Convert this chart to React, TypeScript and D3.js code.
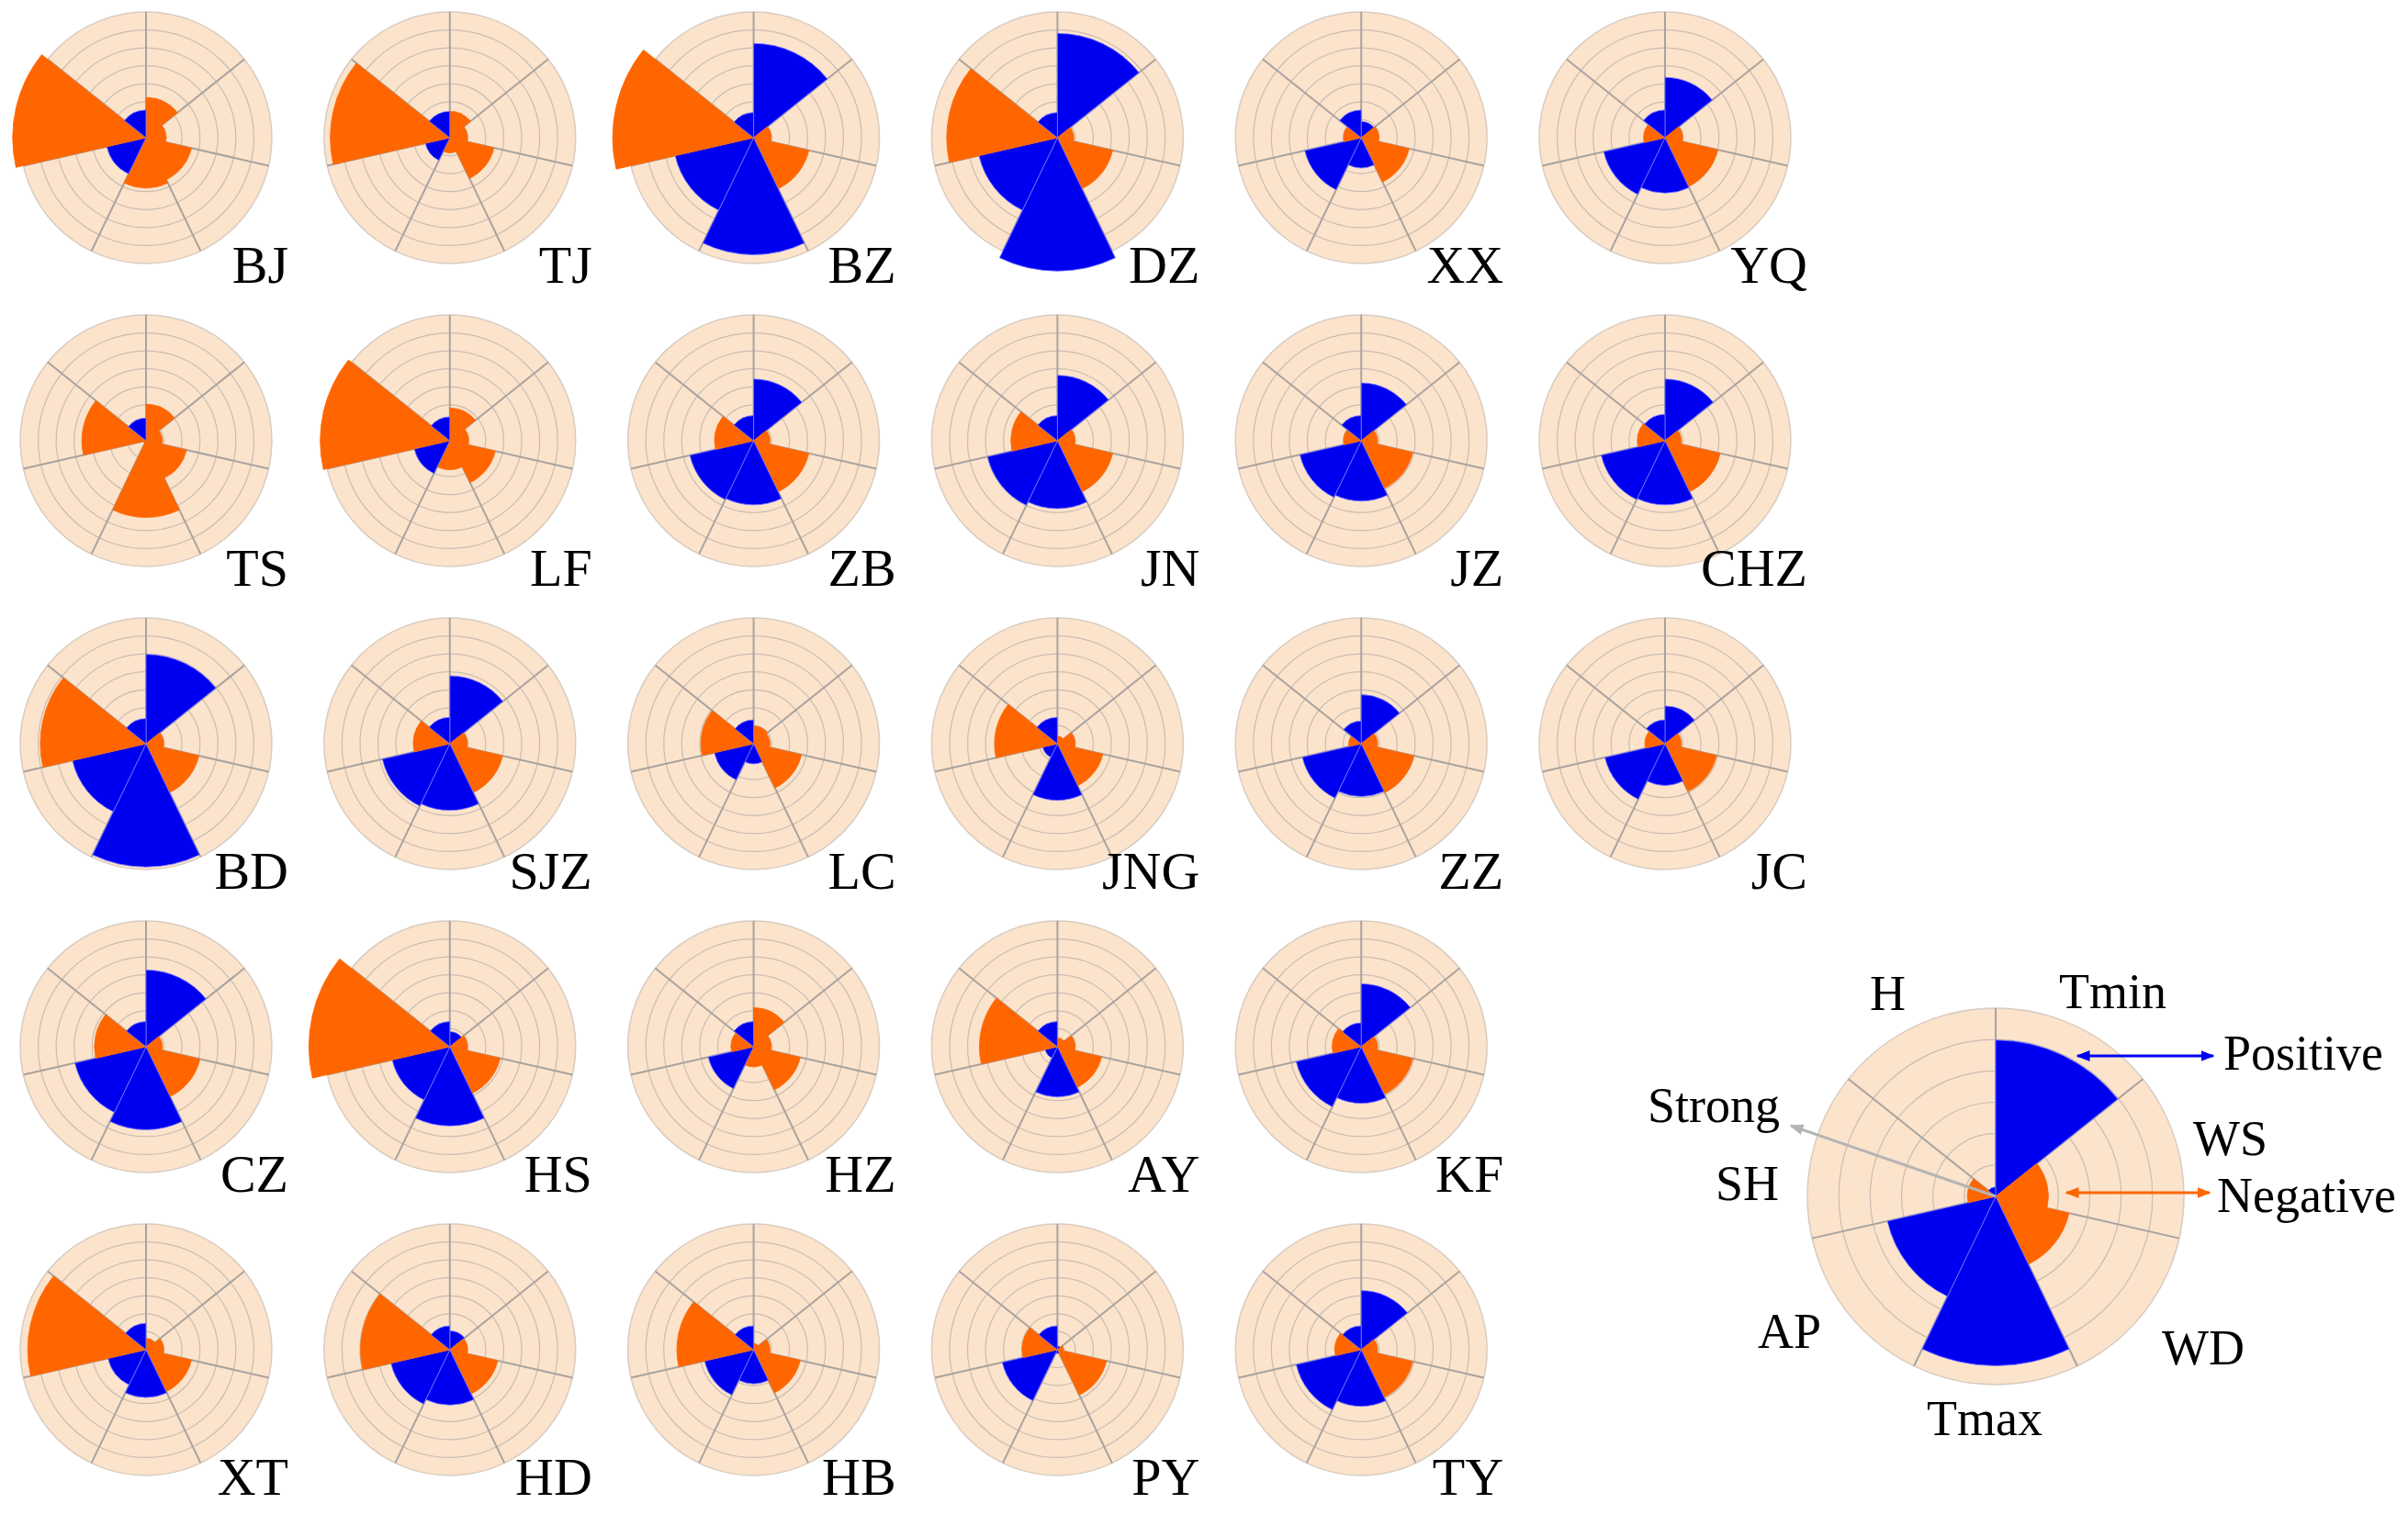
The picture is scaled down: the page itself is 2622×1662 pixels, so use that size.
import React from 'react';
import * as d3 from 'd3';

const variables = ['Tmin', 'WS', 'WD', 'Tmax', 'AP', 'SH', 'H'];

const stations = [
  'BJ', 'TJ', 'BZ', 'DZ', 'XX', 'YQ',
  'TS', 'LF', 'ZB', 'JN', 'JZ', 'CHZ',
  'BD', 'SJZ', 'LC', 'JNG', 'ZZ', 'JC',
  'CZ', 'HS', 'HZ', 'AY', 'KF',
  'XT', 'HD', 'HB', 'PY', 'TY',
];

const rowSizes = [6, 6, 6, 5, 5];

// correlation per station, order: Tmin, WS, WD, Tmax, AP, SH, H (positive = blue, negative = orange)
const values: number[][] = [
  [-0.32, -0.16, -0.37, -0.40, 0.32, -1.06, 0.22],
  [-0.21, -0.14, -0.36, -0.12, 0.20, -0.95, 0.21],
  [0.75, -0.14, -0.45, 0.93, 0.64, -1.12, 0.20],
  [0.83, -0.13, -0.45, 1.06, 0.64, -0.88, 0.20],
  [0.13, -0.14, -0.39, 0.24, 0.46, -0.14, 0.22],
  [0.48, -0.14, -0.43, 0.44, 0.50, -0.17, 0.22],
  [-0.29, -0.13, -0.33, -0.61, -0.02, -0.51, 0.18],
  [-0.26, -0.15, -0.37, -0.23, 0.29, -1.03, 0.19],
  [0.49, -0.13, -0.45, 0.51, 0.52, -0.31, 0.20],
  [0.52, -0.14, -0.45, 0.54, 0.57, -0.37, 0.20],
  [0.46, -0.13, -0.42, 0.48, 0.50, -0.14, 0.20],
  [0.49, -0.13, -0.45, 0.51, 0.52, -0.22, 0.21],
  [0.71, -0.14, -0.43, 0.98, 0.60, -0.84, 0.20],
  [0.54, -0.14, -0.43, 0.53, 0.55, -0.29, 0.21],
  [-0.14, -0.13, -0.39, 0.16, 0.32, -0.42, 0.19],
  [-0.06, -0.14, -0.37, 0.45, 0.12, -0.50, 0.21],
  [0.39, -0.13, -0.43, 0.42, 0.48, -0.10, 0.18],
  [0.30, -0.13, -0.42, 0.33, 0.49, -0.16, 0.19],
  [0.61, -0.13, -0.44, 0.66, 0.58, -0.41, 0.20],
  [0.12, -0.14, -0.41, 0.63, 0.47, -1.12, 0.20],
  [-0.31, -0.14, -0.38, -0.16, 0.37, -0.18, 0.20],
  [-0.07, -0.14, -0.36, 0.40, 0.10, -0.62, 0.20],
  [0.50, -0.13, -0.42, 0.45, 0.53, -0.23, 0.19],
  [-0.09, -0.14, -0.37, 0.38, 0.31, -0.94, 0.21],
  [0.15, -0.14, -0.39, 0.44, 0.48, -0.71, 0.19],
  [-0.05, -0.13, -0.38, 0.27, 0.40, -0.61, 0.19],
  [0.03, -0.05, -0.40, 0.03, 0.45, -0.28, 0.19],
  [0.47, -0.13, -0.42, 0.45, 0.53, -0.21, 0.19],
];

const legendValues = [0.83, -0.28, -0.40, 0.90, 0.59, -0.15, 0.05];

const W = 2622;
const H = 1662;
const BLUE = '#0000F0';
const ORANGE = '#FF6600';
const PEACH = '#FCE3CC';
const FONT = "'Liberation Serif', 'Times New Roman', 'DejaVu Serif', serif";

const angle = d3.scaleLinear().domain([0, variables.length]).range([0, 2 * Math.PI]);

type RoseProps = { cx: number; cy: number; R: number; vals: number[]; rings: number };

function Rose({ cx, cy, R, vals, rings }: RoseProps) {
  const r = d3.scaleLinear().domain([0, 1]).range([0, R]);
  const arc = d3.arc<any>();
  const ringVals = d3.range(1, rings).map((k) => k / rings);
  return (
    <g transform={`translate(${cx},${cy})`}>
      <circle r={R} fill={PEACH} stroke="#D8CCC0" strokeWidth={1.5} />
      {ringVals.map((v, i) => (
        <circle key={i} r={r(v)} fill="none" stroke="#C9BDB1" strokeWidth={1.2} />
      ))}
      {variables.map((_, i) => {
        const a = angle(i);
        return (
          <line
            key={i}
            x1={0}
            y1={0}
            x2={R * Math.sin(a)}
            y2={-R * Math.cos(a)}
            stroke="#A8A39E"
            strokeWidth={2}
          />
        );
      })}
      {vals.map((v, i) => (
        <path
          key={i}
          d={
            arc({
              innerRadius: 0,
              outerRadius: r(Math.abs(v)),
              startAngle: angle(i),
              endAngle: angle(i + 1),
            }) as string
          }
          fill={v >= 0 ? BLUE : ORANGE}
          stroke={v >= 0 ? '#7a7aff' : ORANGE}
          strokeWidth={0.8}
        />
      ))}
    </g>
  );
}

export default function App() {
  const x0 = 159;
  const y0 = 150;
  const dx = 330.8;
  const dy = 330;
  const Rs = 137;
  const cells: { name: string; vals: number[]; cx: number; cy: number }[] = [];
  let idx = 0;
  rowSizes.forEach((n, row) => {
    for (let c = 0; c < n; c++) {
      cells.push({ name: stations[idx], vals: values[idx], cx: x0 + c * dx, cy: y0 + row * dy });
      idx++;
    }
  });

  const lcx = 2173;
  const lcy = 1303;
  const LR = 205;

  return (
    <svg
      width={W}
      height={H}
      viewBox={`0 0 ${W} ${H}`}
      style={{ position: 'absolute', left: 0, top: 0, background: '#fff' }}
    >
      <defs>
        <marker id="hb" viewBox="0 0 10 10" refX="9" refY="5" markerWidth="5" markerHeight="5" orient="auto-start-reverse">
          <path d="M0,1 L10,5 L0,9 z" fill={BLUE} />
        </marker>
        <marker id="ho" viewBox="0 0 10 10" refX="9" refY="5" markerWidth="5" markerHeight="5" orient="auto-start-reverse">
          <path d="M0,1 L10,5 L0,9 z" fill={ORANGE} />
        </marker>
        <marker id="hg" viewBox="0 0 10 10" refX="9" refY="5" markerWidth="5" markerHeight="5" orient="auto">
          <path d="M0,1 L10,5 L0,9 z" fill="#B4B4B4" />
        </marker>
      </defs>
      {cells.map((c) => (
        <g key={c.name}>
          <Rose cx={c.cx} cy={c.cy} R={Rs} vals={c.vals} rings={7} />
          <text
            x={c.cx + 155}
            y={c.cy + 158}
            textAnchor="end"
            style={{ fontFamily: FONT, fontSize: '58px' }}
            fill="#000"
          >
            {c.name}
          </text>
        </g>
      ))}

      <Rose cx={lcx} cy={lcy} R={LR} vals={legendValues} rings={6} />
      <line x1={lcx} y1={lcy} x2={1950} y2={1226} stroke="#B4B4B4" strokeWidth={3} markerEnd="url(#hg)" />
      <line x1={2262} y1={1150} x2={2410} y2={1150} stroke={BLUE} strokeWidth={3} markerStart="url(#hb)" markerEnd="url(#hb)" />
      <line x1={2250} y1={1299} x2={2406} y2={1299} stroke={ORANGE} strokeWidth={3} markerStart="url(#ho)" markerEnd="url(#ho)" />

      <g style={{ fontFamily: FONT, fontSize: '54px' }} fill="#000">
        <text x={2036} y={1100}>H</text>
        <text x={2242} y={1098}>Tmin</text>
        <text x={2421} y={1165}>Positive</text>
        <text x={2388} y={1258}>WS</text>
        <text x={2414} y={1320}>Negative</text>
        <text x={1794} y={1222}>Strong</text>
        <text x={1868} y={1307}>SH</text>
        <text x={1914} y={1468}>AP</text>
        <text x={2354} y={1486}>WD</text>
        <text x={2098} y={1563}>Tmax</text>
      </g>
    </svg>
  );
}
